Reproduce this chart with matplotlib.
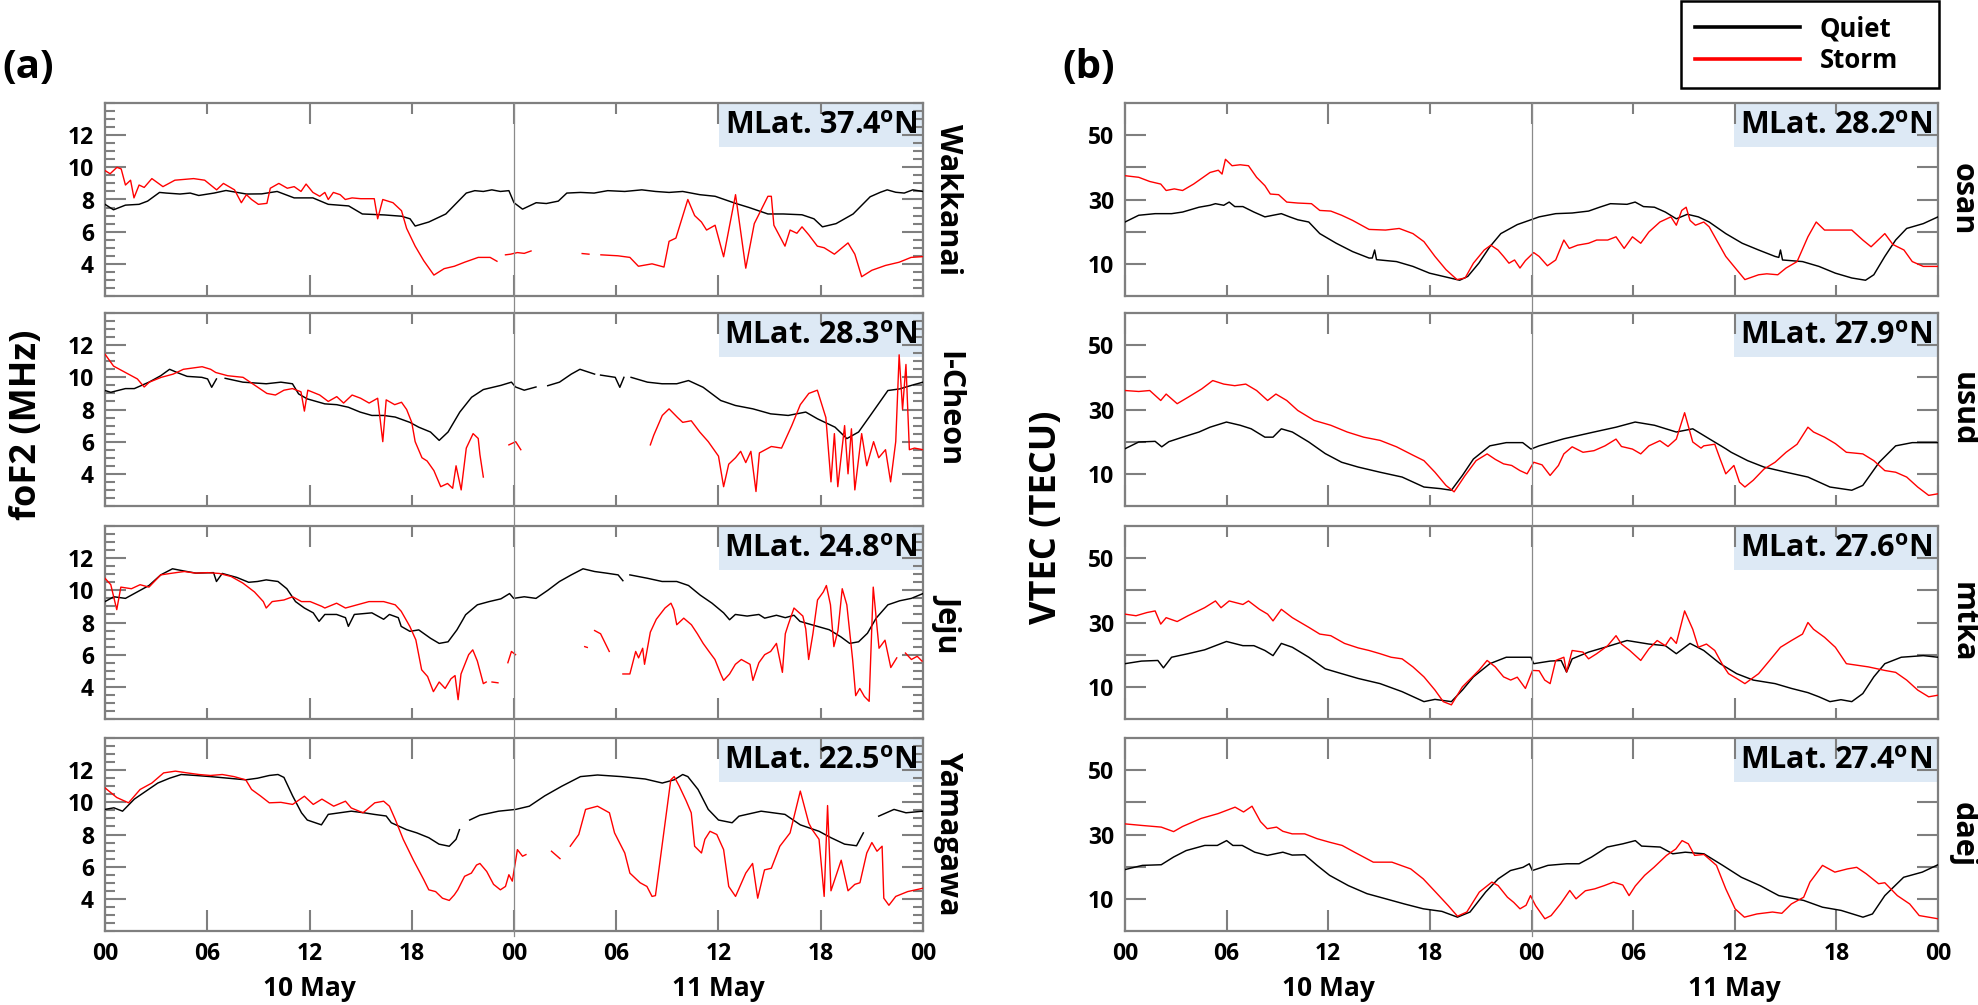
import numpy as np
import matplotlib
matplotlib.use("Agg")
import matplotlib.pyplot as plt
from matplotlib.lines import Line2D
from matplotlib.patches import Rectangle
from matplotlib.ticker import MultipleLocator, FixedLocator
import matplotlib.transforms as mtransforms

plt.rcParams['font.family'] = ['Open Sans', 'DejaVu Sans']
plt.rcParams['font.weight'] = 'bold'
plt.rcParams['mathtext.fontset'] = 'custom'
plt.rcParams['mathtext.rm'] = 'Open Sans:bold'
plt.rcParams['mathtext.bf'] = 'Open Sans:bold'
plt.rcParams['mathtext.it'] = 'Open Sans:bold'

NaN = np.nan

# ---------------- data ----------------
hour_ticks = [0, 6, 12, 18, 24, 30, 36, 42, 48]
hour_tick_labels = ['00', '06', '12', '18', '00', '06', '12', '18', '00']
day_labels = ['10 May', '11 May']
day_centers = [12, 36]
storm_onset = 24

fof2_stations = ['Wakkanai', 'I-Cheon', 'Jeju', 'Yamagawa']
fof2_mlat = ['37.4', '28.3', '24.8', '22.5']
gps_stations = ['osan', 'usud', 'mtka', 'daej']
gps_mlat = ['28.2', '27.9', '27.6', '27.4']

fof2_yticks = [4, 6, 8, 10, 12]
vtec_yticks = [10, 20, 30, 40, 50]
vtec_ytick_labels = ['10', '', '30', '', '50']

# foF2 (MHz): [hour, value]
wak_quiet = [(0,7.7),(0.5,7.36),(1.2,7.65),(2.0,7.7),(2.5,7.9),(3.2,8.44),(3.6,8.4),(4.4,8.34),(5.0,8.4),(5.5,8.25),(6.4,8.4),(7.1,8.56),(7.7,8.45),(8.3,8.34),(9.2,8.35),(10.1,8.5),(10.6,8.3),(11.1,8.1),(12.2,8.1),(13.1,7.7),(14.3,7.6),(15.1,7.1),(16.4,7.04),(17.4,6.96),(17.9,6.8),(18.2,6.35),(19.0,6.6),(20.0,7.1),(21.2,8.4),(21.7,8.55),(22.2,8.5),(22.7,8.6),(23.2,8.5),(23.7,8.55),(24.0,7.8),(24.5,7.4),(25.3,7.8),(25.9,7.75),(26.6,7.9),(27.1,8.4),(27.9,8.44),(28.7,8.4),(29.5,8.55),(30.5,8.5),(31.5,8.6),(32.3,8.5),(33.1,8.44),(33.9,8.5),(34.9,8.3),(35.8,8.2),(37.0,7.76),(37.8,7.5),(38.9,7.1),(39.8,7.1),(40.9,7.05),(41.6,6.8),(42.1,6.3),(42.9,6.5),(43.9,7.1),(44.9,8.17),(45.5,8.45),(45.9,8.6),(46.4,8.45),(46.9,8.4),(47.4,8.6),(48.0,8.5)]
wak_storm = [(0,9.8),(0.3,9.6),(0.7,10.0),(0.95,9.9),(1.2,8.9),(1.5,9.2),(1.7,8.1),(2.0,8.9),(2.3,8.75),(2.75,9.3),(3.4,8.8),(4.1,9.2),(5.2,9.3),(5.85,9.2),(6.55,8.6),(6.95,9.0),(7.6,8.6),(8.0,7.8),(8.3,8.3),(8.6,8.0),(9.0,7.7),(9.5,7.76),(9.7,8.7),(10.2,9.0),(10.7,8.7),(11.1,8.8),(11.5,8.5),(11.8,8.96),(12.2,8.44),(12.6,8.2),(12.9,8.44),(13.1,8.0),(13.4,8.44),(13.8,8.3),(14.1,8.0),(14.5,8.1),(15.0,8.05),(15.8,8.05),(16.0,6.8),(16.3,8.0),(16.9,7.8),(17.4,7.3),(17.7,6.2),(18.2,5.1),(18.7,4.2),(19.3,3.3),(19.9,3.7),(20.5,3.85),(21.1,4.1),(21.9,4.4),(22.6,4.4),(23.0,4.16),(23.25,NaN),(23.5,4.56),(23.8,4.6),(24.2,4.7),(24.6,4.65),(25.0,4.8),(25.3,NaN),(28.0,4.64),(28.4,4.6),(28.7,NaN),(29.1,4.56),(30.1,4.5),(30.8,4.4),(31.3,3.85),(32.1,4.0),(32.8,3.8),(33.1,5.4),(33.5,5.6),(34.2,8.0),(34.6,7.0),(35.0,6.6),(35.3,6.1),(35.8,6.4),(36.3,4.44),(37.0,8.3),(37.6,3.73),(38.1,6.5),(38.9,8.2),(39.1,8.2),(39.25,6.4),(39.9,5.1),(40.2,6.1),(40.6,5.9),(40.9,6.3),(41.3,5.8),(41.8,5.1),(42.2,5.0),(42.8,4.6),(43.6,5.3),(44.0,4.6),(44.4,3.2),(45.0,3.6),(45.8,3.9),(46.6,4.1),(47.3,4.4),(48.0,4.45)]

ich_quiet = [(0,9.18),(0.34,9.07),(1.2,9.3),(1.72,9.3),(2.58,9.7),(3.27,10.1),(3.79,10.5),(4.3,10.27),(4.82,10.06),(5.68,10.0),(6.02,9.9),(6.26,9.38),(6.54,9.9),(6.7,NaN),(7.05,9.94),(8.09,9.7),(9.46,9.6),(10.32,9.7),(11.0,9.6),(11.36,8.97),(11.87,8.66),(12.9,8.35),(13.6,8.3),(14.28,8.14),(14.97,7.84),(15.66,7.63),(16.35,7.63),(17.03,7.53),(17.89,7.2),(18.41,6.9),(19.1,6.6),(19.61,6.08),(20.13,6.6),(20.82,7.84),(21.51,8.76),(22.2,9.24),(23.23,9.5),(23.85,9.7),(24.09,9.4),(24.6,9.2),(25.29,9.4),(25.5,NaN),(25.98,9.48),(26.67,9.7),(27.36,10.2),(27.87,10.5),(28.73,10.2),(28.9,NaN),(29.08,10.14),(29.94,10.0),(30.21,9.38),(30.45,10.0),(30.6,NaN),(30.87,10.0),(31.83,9.7),(32.69,9.6),(33.55,9.6),(34.24,9.8),(35.1,9.38),(36.13,8.56),(36.99,8.25),(38.02,8.04),(39.06,7.73),(40.09,7.63),(41.12,7.84),(41.81,7.42),(42.84,6.9),(43.53,6.19),(44.22,6.6),(44.91,7.63),(45.94,9.18),(46.63,9.28),(47.32,9.5),(48.0,9.7)]
ich_storm = [(0,11.44),(0.5,10.7),(1.2,10.3),(1.9,9.9),(2.3,9.4),(2.6,9.7),(3.3,10.0),(4.0,10.2),(4.6,10.5),(5.7,10.66),(6.2,10.5),(6.5,10.3),(7.2,10.1),(8.1,10.0),(8.8,9.5),(9.5,9.0),(10.0,8.9),(10.5,9.2),(11.0,9.3),(11.5,9.1),(11.7,7.9),(11.9,9.2),(12.6,8.9),(13.1,8.5),(13.6,8.8),(14.0,8.4),(14.5,8.9),(15.0,8.7),(15.5,8.4),(16.0,8.7),(16.3,6.0),(16.5,8.6),(17.0,8.3),(17.4,8.45),(17.7,8.0),(18.0,7.2),(18.2,6.0),(18.6,5.0),(18.9,4.8),(19.3,4.2),(19.7,3.2),(20.1,3.4),(20.4,3.1),(20.6,4.5),(20.9,3.0),(21.2,5.6),(21.6,6.5),(21.9,6.2),(22.0,5.2),(22.2,3.8),(22.4,NaN),(23.7,5.8),(24.1,6.0),(24.4,5.5),(24.6,NaN),(32.0,5.8),(32.2,6.4),(32.7,7.63),(33.1,8.04),(33.6,7.5),(33.9,7.2),(34.4,7.3),(34.9,6.6),(35.4,6.0),(36.0,5.1),(36.3,3.2),(36.6,4.6),(37.0,5.0),(37.3,5.4),(37.6,4.7),(37.9,5.4),(38.2,2.9),(38.4,5.3),(39.1,5.7),(39.7,5.6),(40.3,7.0),(40.8,8.3),(41.3,9.0),(41.8,9.2),(42.3,7.5),(42.6,3.5),(42.8,6.5),(43.0,3.2),(43.4,7.0),(43.6,4.0),(43.8,6.8),(44.0,3.0),(44.4,6.5),(44.7,4.5),(45.1,6.0),(45.4,5.0),(45.8,5.5),(46.1,3.5),(46.4,6.0),(46.6,11.4),(46.8,8.0),(47.0,10.8),(47.2,5.5),(47.5,5.6),(48.0,5.5)]

jej_quiet = [(0,9.3),(0.52,9.6),(1.2,9.5),(1.89,9.9),(2.58,10.3),(3.27,10.96),(3.96,11.34),(4.65,11.2),(5.33,11.07),(6.37,11.1),(6.54,10.55),(6.88,11.05),(7.74,10.8),(8.43,10.5),(8.95,10.55),(9.46,10.65),(10.15,10.55),(10.67,10.1),(11.18,9.3),(11.7,8.9),(12.22,8.6),(12.56,8.07),(12.9,8.5),(13.59,8.5),(14.11,8.3),(14.28,7.76),(14.63,8.5),(15.66,8.6),(16.35,8.2),(16.69,8.5),(17.21,8.3),(17.38,7.76),(17.89,7.45),(18.41,7.54),(19.1,7.02),(19.61,6.7),(20.13,6.8),(20.65,7.54),(20.99,8.16),(21.16,8.48),(21.85,9.1),(22.54,9.3),(23.23,9.47),(23.74,9.8),(23.98,9.5),(24.6,9.6),(25.29,9.5),(25.98,10.0),(26.67,10.55),(27.36,10.96),(28.05,11.34),(28.73,11.17),(29.42,11.07),(30.11,10.96),(30.39,10.6),(30.5,NaN),(30.8,10.96),(31.83,10.75),(32.69,10.55),(33.55,10.55),(34.24,10.3),(34.93,9.7),(35.62,9.2),(36.3,8.6),(36.65,8.17),(36.99,8.5),(37.68,8.4),(38.37,8.5),(38.71,8.27),(39.4,8.45),(39.92,8.3),(40.43,8.45),(40.78,8.07),(41.47,7.86),(42.5,7.55),(43.19,7.1),(43.7,6.7),(44.22,6.8),(44.74,7.33),(45.25,8.27),(45.94,9.1),(46.63,9.35),(47.32,9.5),(48.0,9.8)]
jej_storm = [(0,10.75),(0.34,10.35),(0.69,8.8),(0.93,10.2),(1.55,10.1),(2.06,10.35),(2.58,10.2),(3.27,10.96),(3.96,11.07),(4.65,11.17),(5.33,11.07),(6.02,11.1),(6.71,11.05),(7.4,10.86),(8.09,10.45),(8.77,9.9),(9.29,9.3),(9.46,8.9),(9.81,9.3),(10.5,9.4),(11.01,9.6),(11.53,9.3),(12.04,9.3),(12.73,9.0),(12.9,8.9),(13.59,9.2),(14.11,8.9),(14.8,9.1),(15.49,9.3),(16.35,9.3),(17.03,9.1),(17.38,8.7),(17.72,8.07),(17.89,7.75),(18.24,6.92),(18.58,5.06),(18.93,4.64),(19.27,3.7),(19.61,4.3),(19.96,3.9),(20.3,4.5),(20.54,4.7),(20.72,3.2),(20.89,4.8),(21.34,6.0),(21.58,6.3),(21.85,5.6),(22.2,4.2),(22.37,4.3),(22.5,NaN),(22.71,4.3),(23.06,4.25),(23.3,NaN),(23.64,5.5),(23.85,6.2),(24.09,6.0),(24.3,NaN),(28.15,6.5),(28.3,6.45),(28.5,NaN),(28.73,7.5),(29.08,7.3),(29.59,6.2),(29.9,NaN),(30.39,4.8),(30.8,4.8),(31.14,6.2),(31.31,5.8),(31.55,6.4),(31.66,5.4),(32.0,7.4),(32.35,8.2),(32.86,8.9),(33.21,9.2),(33.38,8.8),(33.55,7.86),(33.96,8.27),(34.41,7.86),(34.76,7.3),(35.1,6.7),(35.44,6.2),(35.79,5.7),(36.13,4.8),(36.3,4.4),(36.65,4.8),(36.99,5.4),(37.34,5.7),(37.85,5.4),(38.02,4.4),(38.37,5.5),(38.71,6.0),(39.06,6.2),(39.4,6.7),(39.75,4.9),(39.92,7.3),(40.09,7.86),(40.43,8.9),(40.95,8.4),(41.12,7.6),(41.29,5.7),(41.54,7.3),(41.81,9.4),(42.15,9.9),(42.33,10.3),(42.57,9.1),(42.77,6.5),(43.01,7.5),(43.26,10.1),(43.53,9.1),(43.87,5.7),(44.05,3.45),(44.29,3.9),(44.56,3.4),(44.84,3.1),(45.08,10.2),(45.42,6.4),(45.77,6.9),(46.11,5.2),(46.46,5.8),(46.7,NaN),(46.97,6.1),(47.32,5.7),(47.66,5.9),(47.94,5.6)]

yam_quiet = [(0,9.56),(0.52,9.66),(1.03,9.45),(1.72,10.2),(2.41,10.7),(3.1,11.2),(3.79,11.5),(4.47,11.73),(5.33,11.67),(6.19,11.6),(7.23,11.5),(8.26,11.4),(8.95,11.5),(9.64,11.67),(10.15,11.73),(10.5,11.55),(11.01,10.4),(11.53,9.35),(11.87,8.9),(12.7,8.6),(13.1,9.25),(14.45,9.45),(15.2,9.35),(15.8,9.25),(16.5,9.15),(16.8,8.73),(17.7,8.3),(18.3,8.1),(19.0,7.8),(19.6,7.4),(20.2,7.27),(20.6,7.7),(20.8,8.3),(21.1,NaN),(21.4,8.9),(22.0,9.2),(23.1,9.45),(24.1,9.56),(24.9,9.76),(25.8,10.4),(26.8,11.0),(27.9,11.6),(28.9,11.7),(30.3,11.6),(31.7,11.45),(32.7,11.2),(33.4,11.4),(33.9,11.73),(34.2,11.6),(34.8,10.8),(35.4,9.56),(36.0,8.9),(36.8,8.73),(37.2,9.14),(38.5,9.45),(39.9,9.25),(40.8,8.6),(41.9,8.2),(42.6,7.8),(43.4,7.4),(44.1,7.3),(44.5,8.1),(44.8,NaN),(45.4,9.14),(46.3,9.56),(47.0,9.35),(48.0,9.45)]
yam_storm = [(0,10.9),(0.69,10.3),(1.38,9.97),(2.06,10.8),(2.75,11.2),(3.44,11.83),(4.13,11.94),(4.82,11.83),(5.51,11.73),(6.19,11.67),(6.88,11.73),(7.57,11.6),(8.26,11.4),(8.6,10.8),(9.12,10.4),(9.64,9.97),(10.32,10.0),(11.01,9.87),(11.7,10.38),(12.22,9.87),(12.73,10.2),(13.42,9.76),(14.11,10.07),(14.45,9.65),(15.14,9.35),(15.83,9.97),(16.35,10.07),(16.69,9.76),(17.03,8.94),(17.5,7.7),(18.1,6.4),(18.7,5.2),(19.0,4.56),(19.4,4.45),(19.8,4.04),(20.2,3.9),(20.5,4.25),(20.7,4.56),(21.1,5.4),(21.5,5.6),(21.8,6.1),(22.0,6.2),(22.4,5.7),(22.8,4.9),(23.2,4.56),(23.5,4.77),(23.7,5.5),(23.9,5.1),(24.2,7.06),(24.5,6.65),(24.7,6.75),(24.9,NaN),(26.2,6.96),(26.7,6.5),(26.9,NaN),(27.3,7.27),(27.8,8.0),(28.2,9.56),(28.9,9.76),(29.6,9.35),(29.9,8.1),(30.5,6.85),(30.8,5.6),(31.4,5.0),(31.8,4.77),(32.1,4.15),(32.3,4.2),(33.2,11.4),(33.4,11.6),(33.7,11.0),(34.1,10.1),(34.4,9.35),(34.6,7.27),(35.0,6.85),(35.2,7.7),(35.5,8.2),(35.9,8.0),(36.3,7.06),(36.6,4.77),(37.0,4.15),(37.6,5.6),(38.0,6.2),(38.3,4.04),(38.7,5.8),(39.1,5.9),(39.6,7.27),(40.2,8.1),(40.8,10.7),(41.3,8.7),(41.5,8.3),(41.9,7.7),(42.2,4.15),(42.4,9.8),(42.6,4.5),(43.2,6.4),(43.6,4.5),(44.0,4.9),(44.3,5.0),(44.7,6.85),(45.0,7.5),(45.3,6.96),(45.6,7.27),(45.7,4.04),(46.0,3.6),(46.4,4.15),(47.1,4.45),(48.0,4.66)]

# VTEC (TECU): [hour, value]
osan_quiet = [(0,23.0),(0.81,25.1),(1.78,25.6),(2.75,25.6),(3.4,26.1),(4.37,27.6),(5.02,28.2),(5.34,28.7),(5.83,28.2),(6.15,29.2),(6.48,27.8),(6.96,27.8),(7.61,26.1),(8.26,24.6),(8.74,25.1),(9.23,25.6),(9.72,24.6),(10.2,23.7),(10.85,23.0),(11.5,19.4),(12.47,16.4),(13.44,13.8),(14.41,11.8),(14.6,11.8),(14.74,14.3),(14.85,11.3),(16.03,10.7),(17.0,9.2),(17.98,7.1),(18.95,5.9),(19.76,4.9),(20.24,6.1),(20.89,10.2),(21.54,15.3),(22.19,19.4),(23.16,22.2),(23.97,23.7),(24.45,24.6),(25.43,25.6),(26.4,25.8),(27.37,26.4),(28.02,27.6),(28.66,28.7),(29.64,28.5),(30.12,29.2),(30.61,27.8),(31.26,27.6),(31.9,26.1),(32.55,24.0),(33.2,25.4),(33.85,24.6),(34.49,23.0),(35.47,19.4),(36.44,16.4),(37.41,14.3),(38.38,12.3),(38.6,12.0),(38.7,14.3),(38.82,11.2),(40.0,10.7),(40.97,9.2),(41.94,7.1),(42.91,5.6),(43.72,4.9),(44.21,6.6),(44.86,12.3),(45.5,17.4),(46.15,21.0),(47.13,22.5),(48.0,24.6)]
osan_storm = [(0,37.4),(0.81,36.9),(1.46,35.6),(2.11,34.8),(2.43,32.8),(2.91,33.3),(3.4,32.8),(4.05,34.8),(5.02,38.4),(5.51,39.1),(5.73,37.9),(5.93,42.5),(6.32,40.5),(6.8,40.8),(7.29,40.5),(7.77,36.9),(8.26,34.3),(8.58,31.7),(9.07,31.5),(9.55,29.2),(10.2,28.9),(11.01,28.7),(11.5,26.6),(12.15,26.4),(12.79,25.1),(13.44,23.5),(14.41,20.7),(15.38,20.5),(16.19,21.0),(17.0,19.4),(17.65,16.9),(18.3,12.3),(18.95,8.2),(19.6,5.1),(20.08,5.6),(20.57,10.2),(21.21,14.3),(21.6,15.8),(22.02,14.3),(22.35,12.3),(22.67,10.2),(23.0,11.2),(23.32,8.7),(23.64,11.0),(24.13,13.5),(24.45,12.3),(24.94,9.4),(25.43,11.2),(25.91,17.4),(26.23,14.8),(26.72,15.8),(27.37,16.4),(27.85,17.4),(28.5,17.4),(28.99,18.4),(29.47,14.8),(29.96,18.4),(30.45,16.4),(30.93,19.9),(31.58,23.0),(32.23,24.6),(32.55,22.0),(32.87,26.6),(33.13,27.6),(33.36,23.5),(33.68,22.0),(34.17,23.0),(34.49,21.5),(34.98,16.9),(35.47,12.3),(36.11,8.2),(36.6,5.1),(37.41,6.6),(37.89,6.9),(38.54,6.6),(39.03,8.7),(39.68,10.7),(40.32,18.4),(40.81,23.0),(41.3,20.5),(42.11,20.5),(42.91,20.5),(43.56,17.4),(44.05,15.3),(44.86,19.4),(45.34,16.0),(45.99,14.3),(46.48,10.7),(47.13,9.2),(48.0,9.2)]

usud_quiet = [(0,17.8),(0.81,19.9),(1.78,20.1),(2.17,18.4),(2.59,20.0),(3.4,21.4),(4.37,23.0),(5.02,24.5),(5.99,26.1),(6.8,25.1),(7.45,24.0),(8.26,21.4),(8.74,21.4),(9.23,24.0),(9.88,23.0),(10.85,19.9),(11.82,16.3),(12.79,13.6),(13.77,12.1),(15.06,10.5),(16.36,9.0),(17.65,5.9),(18.62,5.4),(19.27,4.9),(19.92,9.5),(20.57,14.6),(21.54,18.7),(22.51,19.7),(23.48,19.7),(23.97,17.7),(24.45,18.7),(25.91,20.9),(27.69,23.0),(28.99,24.5),(30.12,26.1),(31.26,25.1),(32.55,23.0),(33.52,24.0),(34.49,20.9),(35.47,17.8),(35.79,16.7),(36.76,14.1),(37.73,12.1),(39.03,10.5),(40.32,9.0),(41.62,5.9),(42.91,4.9),(43.56,6.4),(44.53,13.6),(45.5,18.7),(46.48,19.7),(48.0,19.7)]
usud_storm = [(0,35.9),(0.81,35.6),(1.46,35.9),(2.11,32.8),(2.43,34.8),(3.08,31.8),(3.72,33.8),(4.53,36.4),(5.18,39.0),(5.83,37.9),(6.48,37.4),(7.13,37.9),(7.77,35.9),(8.42,32.8),(8.91,34.8),(9.55,32.8),(10.2,29.7),(11.17,26.6),(12.15,25.1),(13.12,23.0),(14.09,21.4),(15.06,20.4),(16.03,18.4),(17.0,15.8),(17.65,14.1),(18.3,10.5),(18.95,6.4),(19.43,4.4),(20.08,9.5),(20.73,14.1),(21.38,16.2),(21.86,14.5),(22.35,13.1),(22.83,12.6),(23.32,11.0),(23.74,10.0),(24.13,13.6),(24.62,12.8),(25.1,9.5),(25.59,12.6),(25.91,16.2),(26.4,18.4),(27.04,16.7),(27.69,17.2),(28.34,18.7),(28.99,20.8),(29.31,18.5),(29.96,17.7),(30.45,16.2),(30.93,18.7),(31.58,20.3),(32.06,18.5),(32.55,20.8),(33.04,29.0),(33.52,19.9),(34.01,18.0),(34.17,18.7),(34.82,19.2),(35.14,14.6),(35.47,10.0),(35.95,12.6),(36.28,7.4),(36.6,5.9),(37.09,8.0),(37.73,11.5),(38.38,13.6),(39.03,16.7),(39.68,19.2),(40.32,24.5),(40.65,23.0),(41.3,21.4),(41.94,19.4),(42.59,16.7),(43.56,16.2),(44.21,14.1),(44.86,11.0),(45.5,10.5),(46.15,9.0),(46.8,5.9),(47.45,3.3),(48.0,3.8)]

mtka_quiet = [(0,17.2),(0.97,18.0),(1.94,18.2),(2.27,15.9),(2.75,19.2),(3.72,20.3),(4.7,21.5),(5.99,24.1),(6.96,22.8),(7.61,22.8),(8.26,21.3),(8.74,19.7),(9.23,23.5),(9.88,22.3),(10.85,19.2),(11.82,15.6),(12.79,14.1),(13.77,12.6),(15.06,11.0),(16.36,8.5),(17.65,5.4),(18.3,6.1),(19.27,5.4),(19.92,9.0),(20.57,13.1),(21.54,17.2),(22.51,19.2),(23.97,19.2),(24.13,17.2),(25.1,18.0),(25.75,18.2),(26.07,14.6),(26.4,18.7),(27.37,20.8),(28.34,22.3),(29.64,24.4),(30.93,23.3),(31.9,22.8),(32.55,20.3),(33.36,23.5),(34.17,21.3),(35.14,17.2),(36.11,14.1),(37.09,12.1),(38.38,11.0),(39.35,9.5),(40.32,8.2),(40.97,6.9),(41.62,5.4),(42.27,6.0),(42.91,5.4),(43.56,7.9),(44.21,13.1),(44.86,17.2),(45.83,19.2),(47.13,19.7),(48.0,19.2)]
mtka_storm = [(0,32.6),(0.65,32.1),(1.3,33.1),(1.78,33.6),(2.11,29.5),(2.43,31.5),(3.08,30.3),(3.72,32.1),(4.7,34.6),(5.34,36.7),(5.67,34.6),(6.15,36.7),(6.96,35.6),(7.29,36.7),(7.94,34.1),(8.42,32.6),(8.74,30.5),(9.23,34.1),(9.88,31.5),(10.85,28.5),(11.5,26.4),(12.15,25.9),(12.96,23.5),(13.77,22.1),(14.41,21.3),(15.06,20.3),(15.71,19.2),(16.36,18.7),(17.0,16.2),(17.65,13.1),(18.3,9.0),(18.79,5.4),(19.27,4.4),(19.92,10.0),(20.89,15.1),(21.38,18.2),(21.86,16.2),(22.35,13.1),(22.77,12.1),(23.16,13.0),(23.64,9.5),(24.06,15.1),(24.45,15.0),(24.78,12.1),(25.1,11.0),(25.43,18.2),(25.91,19.2),(26.07,14.6),(26.4,21.3),(27.04,20.8),(27.37,18.7),(27.85,20.3),(28.5,22.8),(28.99,25.9),(29.31,23.3),(29.8,21.3),(30.45,18.2),(30.93,21.8),(31.42,24.4),(31.9,22.8),(32.23,25.4),(32.55,23.5),(33.04,33.6),(33.52,27.9),(33.85,22.3),(34.33,23.3),(34.82,21.3),(35.3,16.7),(35.63,14.1),(36.11,12.6),(36.6,11.0),(37.41,14.1),(38.06,18.2),(38.7,22.3),(39.35,24.4),(40.0,26.4),(40.32,30.0),(40.65,27.9),(41.3,25.4),(41.94,22.3),(42.59,17.2),(43.24,16.7),(43.89,16.2),(44.86,15.1),(45.5,14.5),(46.15,12.1),(46.8,9.0),(47.45,6.9),(48.0,7.4)]

daej_quiet = [(0,19.1),(1.03,20.4),(2.14,20.6),(2.87,23.0),(3.61,25.0),(4.71,26.6),(5.45,26.6),(6.0,28.1),(6.37,26.6),(6.92,26.6),(7.66,24.5),(8.4,23.5),(9.32,24.5),(9.87,23.6),(10.61,23.7),(11.34,20.4),(12.08,17.3),(13.19,14.1),(14.29,11.6),(15.4,10.0),(16.5,8.4),(17.61,6.9),(18.71,6.1),(19.63,4.3),(20.37,5.9),(21.29,12.1),(22.03,16.2),(22.76,18.8),(23.5,19.8),(23.87,20.9),(24.05,18.8),(24.97,20.4),(26.08,20.9),(26.81,20.9),(27.55,23.0),(28.47,26.1),(29.39,27.1),(30.13,28.1),(30.5,26.4),(31.6,26.1),(32.34,24.0),(33.08,24.5),(34.18,24.0),(35.29,20.4),(36.39,16.7),(37.5,14.1),(38.6,11.0),(40.07,9.5),(41.18,7.4),(42.28,6.4),(43.57,4.3),(44.13,5.3),(44.86,11.0),(45.97,16.7),(47.07,18.3),(48.0,20.6)]
daej_storm = [(0,33.3),(1.03,32.8),(2.14,32.3),(2.87,30.9),(3.4,32.5),(4.5,35.0),(5.5,36.5),(6.0,37.5),(6.5,38.5),(7.0,37.0),(7.5,38.8),(8.0,34.0),(8.4,31.8),(8.95,32.3),(9.32,31.0),(9.87,30.2),(10.61,30.2),(11.34,28.7),(12.08,27.6),(12.82,26.6),(13.55,24.5),(14.66,21.4),(15.76,21.4),(16.87,19.3),(17.61,16.2),(18.34,12.1),(19.08,7.9),(19.63,4.6),(20.18,5.9),(20.92,12.1),(21.66,15.2),(22.03,14.1),(22.58,10.5),(22.95,8.9),(23.32,6.9),(23.68,8.0),(23.94,11.0),(24.24,7.9),(24.79,3.8),(25.16,4.8),(25.71,8.4),(26.26,12.6),(26.63,10.0),(27.18,12.5),(27.73,13.1),(28.29,14.1),(28.84,15.2),(29.39,14.3),(29.76,11.0),(30.13,14.0),(30.68,17.3),(31.23,19.8),(31.97,23.5),(32.52,25.5),(32.89,28.1),(33.26,27.1),(33.63,23.5),(34.18,23.8),(34.92,20.4),(35.47,13.1),(36.02,6.9),(36.57,4.3),(37.31,5.3),(38.23,5.9),(38.78,5.5),(39.34,8.4),(40.07,10.5),(40.44,15.2),(41.18,20.4),(41.91,18.3),(42.65,19.3),(43.2,19.8),(43.76,17.8),(44.49,14.7),(44.86,15.0),(45.6,11.0),(46.33,8.4),(46.89,4.8),(48.0,3.8)]

fof2_quiet = [wak_quiet, ich_quiet, jej_quiet, yam_quiet]
fof2_storm = [wak_storm, ich_storm, jej_storm, yam_storm]
vtec_quiet = [osan_quiet, usud_quiet, mtka_quiet, daej_quiet]
vtec_storm = [osan_storm, usud_storm, mtka_storm, daej_storm]

# ---------------- layout / style ----------------
W, H = 1978, 1005
fig = plt.figure(figsize=(W / 100, H / 100), dpi=100)

QUIET_C = '#000000'
STORM_C = '#ff0000'
SPINE_C = '#7f7f7f'
BOX_C = '#dde9f5'
TICK_FS = 16.5

col_x = [105, 1125]
col_w = [818, 813]
row_top = [103, 313, 526, 738]
row_h = 193


def make_ax(c, r):
    return fig.add_axes([col_x[c] / W, 1 - (row_top[r] + row_h) / H,
                         col_w[c] / W, row_h / H])


def style_ax(ax, is_bottom, left_col):
    ax.set_xlim(0, 48)
    ax.xaxis.set_major_locator(FixedLocator([0, 12, 24, 36, 48]))
    ax.xaxis.set_minor_locator(FixedLocator([6, 18, 30, 42]))
    if is_bottom:
        ax.set_xticks(hour_ticks)
        ax.set_xticklabels(hour_tick_labels)
        ax.xaxis.set_minor_locator(FixedLocator([]))
    else:
        ax.set_xticklabels([])
    for s in ax.spines.values():
        s.set_color(SPINE_C)
        s.set_linewidth(1.6)
    ax.tick_params(axis='both', which='both', direction='in', top=True,
                   right=True, color=SPINE_C, width=1.5,
                   labelsize=TICK_FS, pad=8)
    ax.tick_params(axis='x', which='major', length=15)
    ax.tick_params(axis='x', which='minor', length=8)
    if left_col:
        ax.set_ylim(2, 14)
        ax.set_yticks(fof2_yticks)
        ax.yaxis.set_minor_locator(MultipleLocator(0.5))
        ax.tick_params(axis='y', which='major', length=15)
        ax.tick_params(axis='y', which='minor', length=7)
    else:
        ax.set_ylim(0, 60)
        ax.set_yticks(vtec_yticks)
        ax.set_yticklabels(vtec_ytick_labels)
        ax.tick_params(axis='y', which='major', length=15)
    for lab in ax.get_xticklabels() + ax.get_yticklabels():
        lab.set_fontweight('bold')


def mlat_box(ax, mlat, c):
    bw = 204 / col_w[c]
    bh = 44 / row_h
    ax.add_patch(Rectangle((1 - bw, 1 - bh), bw, bh, transform=ax.transAxes,
                           facecolor=BOX_C, edgecolor='none', zorder=1.5))
    ax.text(1 - bw / 2, 1 - bh / 2 - 0.005, 'MLat. ' + mlat + r'$^{\mathrm{o}}$N',
            transform=ax.transAxes, ha='center', va='center',
            fontsize=22, fontweight='bold', zorder=5)


axes = [[None] * 4, [None] * 4]
series = [(fof2_quiet, fof2_storm, fof2_stations, fof2_mlat),
          (vtec_quiet, vtec_storm, gps_stations, gps_mlat)]

for c in range(2):
    quiet, storm, stations, mlats = series[c]
    for r in range(4):
        ax = make_ax(c, r)
        axes[c][r] = ax
        q = np.array(quiet[r], dtype=float)
        s = np.array(storm[r], dtype=float)
        ax.plot(q[:, 0], q[:, 1], color=QUIET_C, lw=1.05, zorder=3)
        ax.plot(s[:, 0], s[:, 1], color=STORM_C, lw=1.0, zorder=4)
        style_ax(ax, r == 3, c == 0)
        mlat_box(ax, mlats[r], c)
        ax.text(1.0 + 10 / col_w[c], 0.5, stations[r], transform=ax.transAxes,
                rotation=-90, ha='left', va='center', fontsize=22,
                fontweight='bold')

    # day labels under bottom axes
    axb = axes[c][3]
    trans = mtransforms.blended_transform_factory(axb.transData, axb.transAxes)
    for lab, hc in zip(day_labels, day_centers):
        axb.text(hc, -44 / row_h, lab, transform=trans, ha='center', va='top',
                 fontsize=19, fontweight='bold')

    # storm-onset vertical line across the whole column (drawn over the axes)
    tr = mtransforms.blended_transform_factory(axb.transData, fig.transFigure)
    y0 = 1 - (row_top[3] + row_h + 5) / H
    y1 = 1 - row_top[0] / H
    fig.add_artist(Line2D([storm_onset, storm_onset], [y0, y1], transform=tr,
                          color='#8a8a8a', lw=0.9, zorder=2))

# y labels
fig.text(27 / W, 1 - 425 / H, 'foF2 (MHz)', rotation=90, ha='center',
         va='center', fontsize=26, fontweight='bold')
fig.text(1047 / W, 1 - 517 / H, 'VTEC (TECU)', rotation=90, ha='center',
         va='center', fontsize=26, fontweight='bold')

# panel letters
fig.text(2 / W, 1 - 68 / H, '(a)', ha='left', va='center', fontsize=29,
         fontweight='bold')
fig.text(1062 / W, 1 - 68 / H, '(b)', ha='left', va='center', fontsize=29,
         fontweight='bold')

# legend (box spans a fixed width at the top right)
handles = [Line2D([], [], color=QUIET_C, lw=2.6),
           Line2D([], [], color=STORM_C, lw=2.6)]
leg = fig.legend(handles, ['Quiet', 'Storm'], loc='upper left',
                 bbox_to_anchor=(1681 / W, 1 - 1 / H, 258 / W, 0.0),
                 mode='expand', frameon=True,
                 fancybox=False, edgecolor='black', framealpha=1,
                 fontsize=18.5, handlelength=4.1, borderpad=0.55,
                 labelspacing=0.2, handletextpad=0.75, borderaxespad=0)
leg.get_frame().set_linewidth(1.8)
for t in leg.get_texts():
    t.set_fontweight('bold')

fig.savefig('out.png', dpi=100)
